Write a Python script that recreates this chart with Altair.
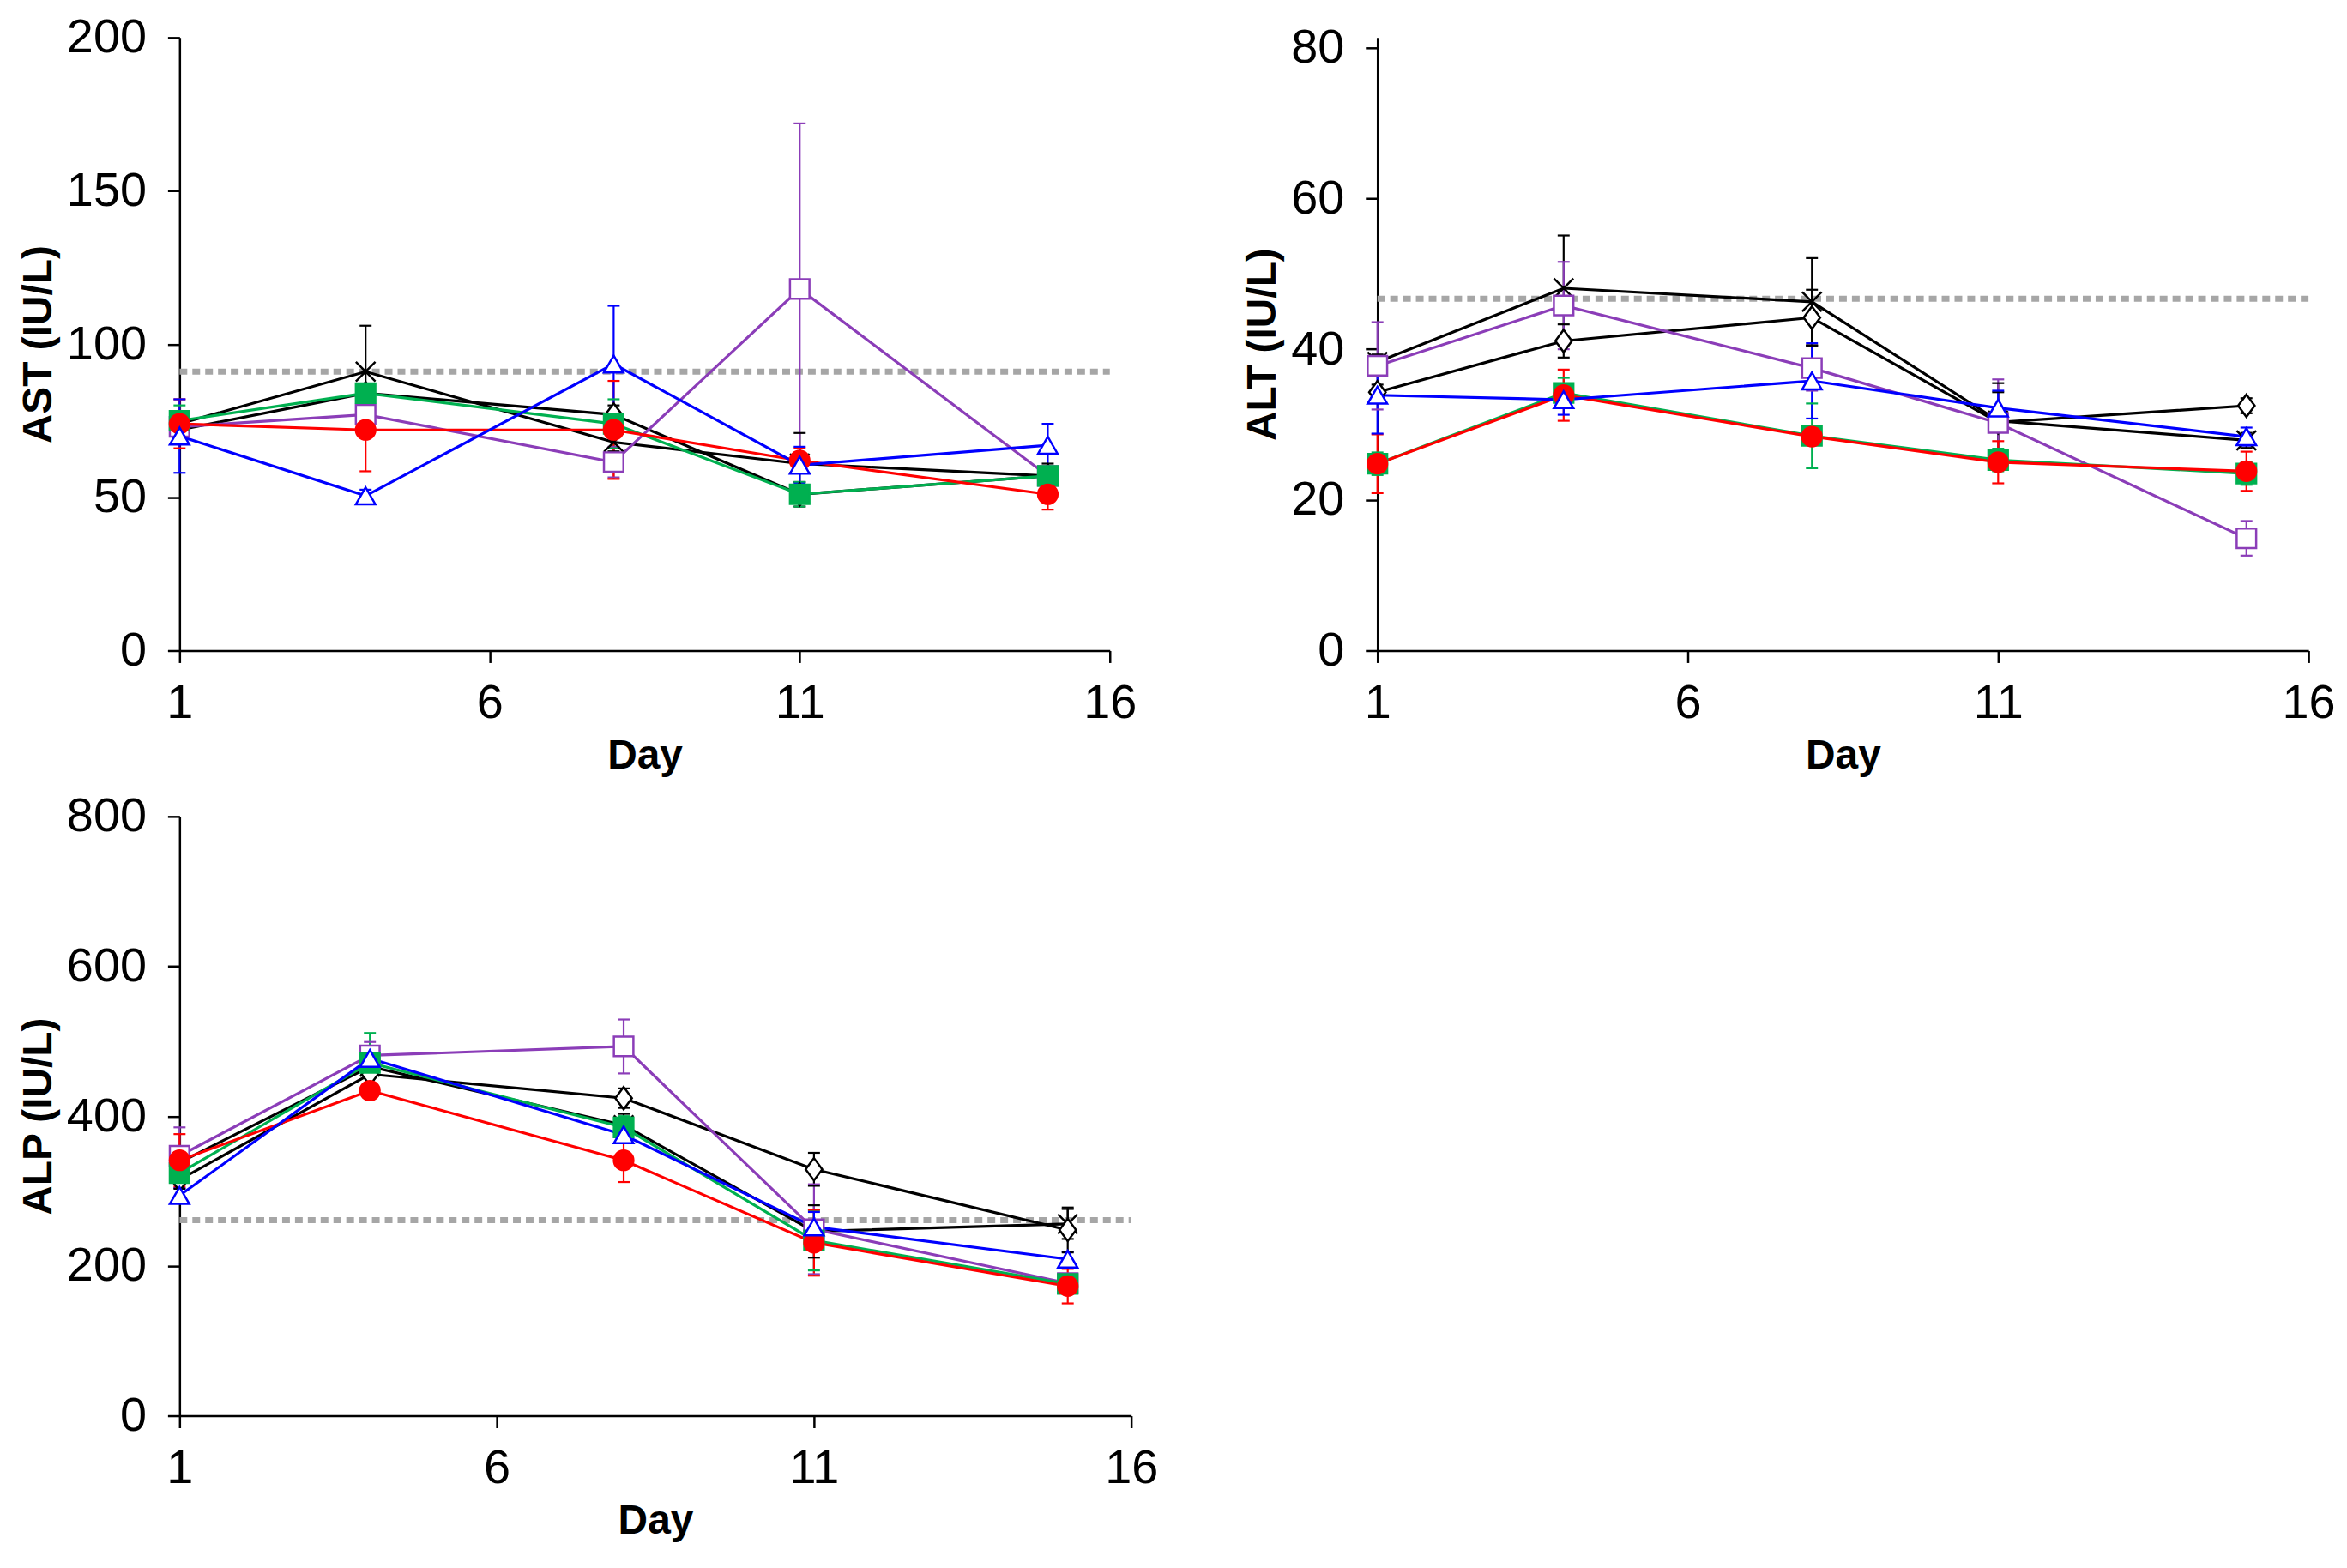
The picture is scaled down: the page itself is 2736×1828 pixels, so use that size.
import altair as alt
import pandas as pd

DAYS = [1, 4, 8, 11, 15]
SERIES = ["X", "Diamond", "Purple", "Green", "Red", "Blue"]

# AST means / SDs
AST_X = [74, 91, 68, 61, 57]
AST_DIAMOND = [72, 84, 77, 51, 57]
AST_PURPLE = [73, 77, 61.5, 118, 57]
AST_GREEN = [75, 84, 74, 51, 57]
AST_RED = [74, 72, 72, 62, 51]
AST_BLUE = [70, 50.5, 93.5, 60.5, 67]
AST_X_SD = [3, 15, 3, 10, 3]
AST_DIAMOND_SD = [4, 3, 3, 4, 4]
AST_PURPLE_SD = [4, 3, 5, 54, 3]
AST_GREEN_SD = [5, 3, 8, 4, 3]
AST_RED_SD = [8, 13.5, 16, 4, 5]
AST_BLUE_SD = [12, 2, 19, 6, 7]
AST_REF = 91

# ALT
ALT_X = [38.3, 48.1, 46.3, 30.5, 27.9]
ALT_DIAMOND = [34.3, 41.1, 44.2, 30.3, 32.5]
ALT_PURPLE = [37.8, 45.8, 37.5, 30.2, 14.9]
ALT_GREEN = [24.8, 34.2, 28.5, 25.3, 23.5]
ALT_RED = [24.8, 33.9, 28.4, 25.0, 23.8]
ALT_BLUE = [33.9, 33.3, 35.8, 32.2, 28.4]
ALT_X_SD = [1, 7, 5.8, 5, 1]
ALT_DIAMOND_SD = [1, 2.2, 3.7, 4, 1]
ALT_PURPLE_SD = [5.8, 5.8, 3, 5.8, 2.3]
ALT_GREEN_SD = [1.5, 2, 4.3, 1.5, 1.5]
ALT_RED_SD = [3.9, 3.4, 1, 2.8, 2.6]
ALT_BLUE_SD = [5.1, 2, 5, 2.3, 1.2]
ALT_REF = 46.7

# ALP
ALP_X = [338, 466, 388, 246, 256]
ALP_DIAMOND = [315, 456, 424, 329, 248]
ALP_PURPLE = [347, 481, 493, 249, 177]
ALP_GREEN = [324, 471, 385, 234, 176]
ALP_RED = [341, 434, 341, 231, 173]
ALP_BLUE = [294, 477, 375, 252, 209]
ALP_X_SD = [15, 15, 15, 35, 20]
ALP_DIAMOND_SD = [12, 12, 13, 22, 30]
ALP_PURPLE_SD = [38, 18, 36, 60, 10]
ALP_GREEN_SD = [12, 40, 15, 40, 10]
ALP_RED_SD = [35, 8, 29, 44, 23]
ALP_BLUE_SD = [10, 12, 10, 20, 10]
ALP_REF = 261

COLORS = ["#000000", "#000000", "#8B3DB8", "#00B050", "#FF0000", "#0000FF"]
FILLS = ["#FFFFFF", "#FFFFFF", "#FFFFFF", "#00B050", "#FF0000", "#FFFFFF"]
SHAPES = [
    "M-1,-1L1,1M-1,1L1,-1",
    "M0,-1.15L0.85,0L0,1.15L-0.85,0Z",
    "square",
    "square",
    "circle",
    "triangle-up",
]


def make_df(means, sds):
    rows = []
    for s, m, sd in zip(SERIES, means, sds):
        for d, v, e in zip(DAYS, m, sd):
            rows.append({"series": s, "day": d, "value": v, "lo": v - e, "hi": v + e})
    return pd.DataFrame(rows)


def panel(means, sds, ymax, yvals, title, ref, w, h):
    df = make_df(means, sds)
    base = alt.Chart(df)
    xsc = alt.Scale(domain=[1, 16], nice=False, zero=False)
    ysc = alt.Scale(domain=[0, ymax], nice=False)
    xax = alt.Axis(values=[1, 6, 11, 16], title="Day", labelFlush=False)
    yax = alt.Axis(values=yvals, title=title)
    color = alt.Color("series:N", scale=alt.Scale(domain=SERIES, range=COLORS), legend=None)

    refl = alt.Chart(pd.DataFrame({"x": [1], "x2": [16], "y": [ref]})).mark_rule(
        color="#A6A6A6", strokeWidth=7, strokeDash=[9, 6]
    ).encode(
        x=alt.X("x:Q", scale=xsc, axis=xax),
        x2="x2:Q",
        y=alt.Y("y:Q", scale=ysc, axis=yax),
    )
    bars = base.mark_rule(strokeWidth=2.2).encode(
        x=alt.X("day:Q", scale=xsc, axis=xax),
        y=alt.Y("lo:Q", scale=ysc, axis=yax),
        y2="hi:Q",
        color=color,
    )
    cap_hi = base.mark_rule(strokeWidth=2.2, xOffset=-7, x2Offset=7).encode(
        x=alt.X("day:Q", scale=xsc, axis=xax),
        x2="day:Q",
        y=alt.Y("hi:Q", scale=ysc, axis=yax),
        color=color,
    )
    cap_lo = base.mark_rule(strokeWidth=2.2, xOffset=-7, x2Offset=7).encode(
        x=alt.X("day:Q", scale=xsc, axis=xax),
        x2="day:Q",
        y=alt.Y("lo:Q", scale=ysc, axis=yax),
        color=color,
    )
    lines = base.mark_line(strokeWidth=3.2).encode(
        x=alt.X("day:Q", scale=xsc, axis=xax),
        y=alt.Y("value:Q", scale=ysc, axis=yax),
        color=color,
        detail="series:N",
    )
    pts = base.mark_point(filled=True, size=520, strokeWidth=2.5, opacity=1).encode(
        x=alt.X("day:Q", scale=xsc, axis=xax),
        y=alt.Y("value:Q", scale=ysc, axis=yax),
        shape=alt.Shape("series:N", scale=alt.Scale(domain=SERIES, range=SHAPES), legend=None),
        fill=alt.Fill("series:N", scale=alt.Scale(domain=SERIES, range=FILLS), legend=None),
        stroke=alt.Stroke("series:N", scale=alt.Scale(domain=SERIES, range=COLORS), legend=None),
    )
    return alt.layer(refl, bars, cap_hi, cap_lo, lines, pts).properties(width=w, height=h)


ast = panel(
    [AST_X, AST_DIAMOND, AST_PURPLE, AST_GREEN, AST_RED, AST_BLUE],
    [AST_X_SD, AST_DIAMOND_SD, AST_PURPLE_SD, AST_GREEN_SD, AST_RED_SD, AST_BLUE_SD],
    200, [0, 50, 100, 150, 200], "AST (IU/L)", AST_REF, 1088, 717,
)
# ALT plot area is a little shorter in the reference; its 80 tick sits below the top
alt_p = panel(
    [ALT_X, ALT_DIAMOND, ALT_PURPLE, ALT_GREEN, ALT_RED, ALT_BLUE],
    [ALT_X_SD, ALT_DIAMOND_SD, ALT_PURPLE_SD, ALT_GREEN_SD, ALT_RED_SD, ALT_BLUE_SD],
    80 * 717 / 705, [0, 20, 40, 60, 80], "ALT (IU/L)", ALT_REF, 1089, 717,
)
alp = panel(
    [ALP_X, ALP_DIAMOND, ALP_PURPLE, ALP_GREEN, ALP_RED, ALP_BLUE],
    [ALP_X_SD, ALP_DIAMOND_SD, ALP_PURPLE_SD, ALP_GREEN_SD, ALP_RED_SD, ALP_BLUE_SD],
    800, [0, 200, 400, 600, 800], "ALP (IU/L)", ALP_REF, 1113, 701,
)

top = alt.hconcat(ast, alt_p, spacing=123)
chart = alt.vconcat(top, alp, spacing=19).properties(
    padding={"left": 13, "top": 5, "right": 5, "bottom": 5}
).configure_view(stroke=None).configure_axis(
    grid=False,
    domainColor="#000000",
    domainWidth=2.5,
    tickColor="#000000",
    tickWidth=2.5,
    tickSize=14,
    labelFont="Liberation Sans, Arial, sans-serif",
    labelFontSize=56,
    labelColor="#000000",
    labelPadding=20,
    titleFont="Liberation Sans, Arial, sans-serif",
    titleFontWeight="bold",
    titleFontSize=48,
    titleColor="#000000",
    titlePadding=10,
).configure_axisY(
    labelPadding=25,
    titlePadding=8,
)

chart.save("out.html", embed_options={"renderer": "svg", "actions": False})
